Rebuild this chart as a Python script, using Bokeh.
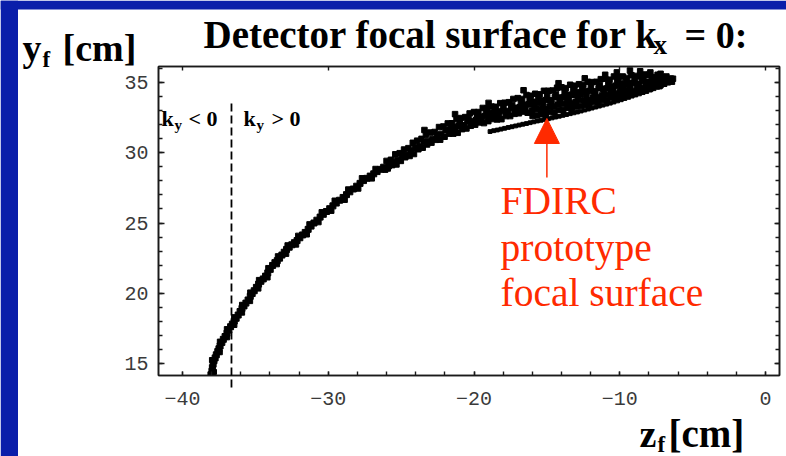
from bokeh.plotting import figure
from bokeh.layouts import column
from bokeh.models import (Range1d, LinearAxis, SingleIntervalTicker, Label,
                          Arrow, NormalHead, BoxAnnotation)
from bokeh.embed import file_html
from bokeh.resources import INLINE

# ---- lower, steep part of the focal surface (dense chain of hits) ----
chain_z = [-38.05, -37.98, -37.95, -37.90, -37.84, -37.76, -37.68, -37.58, -37.50, -37.42,
           -37.30, -37.20, -37.08, -36.95, -36.82, -36.70, -36.58, -36.45, -36.32, -36.18,
           -36.05, -35.92, -35.78, -35.65, -35.50, -35.35, -35.22, -35.08, -34.93, -34.78,
           -34.62, -34.46, -34.30, -34.15, -33.98, -33.82, -33.66, -33.50, -33.34, -33.18,
           -33.02, -32.86, -32.68, -32.50, -32.32, -32.14, -31.95, -31.76, -31.58, -31.38,
           -31.18, -30.98, -30.78, -30.56, -30.34, -30.12, -29.90, -29.68, -29.45, -29.22,
           -28.98, -28.75, -28.52, -28.28, -28.05, -27.82, -27.58, -27.35, -27.12, -26.88,
           -26.65, -26.42, -26.20]
chain_y = [14.20, 14.45, 14.70, 14.95, 15.20, 15.40, 15.62, 15.85, 16.05, 16.25,
           16.50, 16.72, 16.92, 17.15, 17.38, 17.62, 17.80, 18.02, 18.22, 18.45,
           18.70, 18.92, 19.10, 19.30, 19.52, 19.78, 19.98, 20.18, 20.42, 20.65,
           20.85, 21.02, 21.22, 21.45, 21.70, 21.98, 22.18, 22.32, 22.50, 22.72,
           22.92, 23.12, 23.28, 23.45, 23.60, 23.75, 23.95, 24.15, 24.33, 24.55,
           24.78, 25.00, 25.20, 25.42, 25.62, 25.82, 26.02, 26.22, 26.42, 26.62,
           26.82, 27.02, 27.22, 27.42, 27.62, 27.82, 28.02, 28.18, 28.34, 28.50,
           28.66, 28.82, 28.97]

side_z = [-37.84, -37.98, -37.44, -37.44, -36.94, -36.96, -36.44, -36.46, -35.91, -35.92,
          -35.36, -35.36, -34.79, -34.76, -34.16, -34.12, -33.52, -33.46, -32.88, -32.80,
          -32.20, -32.07, -31.46, -31.30, -30.66, -30.46, -29.78, -29.57, -28.86, -28.64,
          -27.93, -27.70, -27.00, -26.77, -26.08]
side_y = [14.40, 15.25, 15.80, 16.56, 16.86, 17.45, 17.74, 18.30, 18.62, 19.18,
          19.44, 20.06, 20.33, 20.95, 21.12, 21.80, 22.06, 22.64, 22.80, 23.42,
          23.46, 24.10, 24.18, 24.92, 25.05, 25.78, 25.86, 26.60, 26.64, 27.40,
          27.44, 28.20, 28.16, 28.86, 28.78]

# ---- upper, wide part of the focal surface (scattered cloud) ----
upper_z = [-26.0, -25.7, -25.4, -25.1, -24.8, -24.5, -24.2, -23.9, -23.6, -23.3,
           -23.0, -22.7, -22.4, -22.1, -21.8, -21.5, -21.2, -20.9, -20.6, -20.3,
           -20.0, -19.7, -19.4, -19.1, -18.8, -18.5, -18.2, -17.9, -17.6, -17.3,
           -17.0, -16.7, -16.4, -16.1, -15.8, -15.5, -15.2, -14.9, -14.6, -14.3,
           -14.0, -13.7, -13.4, -13.1, -12.8, -12.5, -12.2, -11.9, -11.6, -11.3,
           -11.0, -10.7, -10.4, -10.1, -9.8, -9.5, -9.2, -8.9, -8.6, -8.3,
           -8.0, -7.7, -7.4, -7.1, -6.8, -6.5]
upper_y = [29.42, 29.50, 29.89, 29.97, 30.23, 30.33, 30.71, 30.86, 30.99, 31.29,
           31.44, 31.48, 31.83, 31.87, 32.09, 32.10, 32.40, 32.47, 32.54, 32.80,
           32.90, 32.90, 33.19, 33.16, 33.29, 33.27, 33.53, 33.56, 33.60, 33.83,
           33.89, 33.83, 34.11, 34.06, 34.20, 34.16, 34.41, 34.41, 34.43, 34.63,
           34.66, 34.60, 34.84, 34.77, 34.88, 34.82, 35.05, 35.03, 35.05, 35.24,
           35.27, 35.20, 35.43, 35.35, 35.43, 35.33, 35.52, 35.47, 35.43, 35.57,
           35.55, 35.39, 35.55, 35.39, 35.43, 35.28]

middle_z = [-25.85, -25.55, -25.25, -24.95, -24.65, -24.35, -24.05, -23.75, -23.45, -23.15,
            -22.85, -22.55, -22.25, -21.95, -21.65, -21.35, -21.05, -20.75, -20.45, -20.15,
            -19.85, -19.55, -19.25, -18.95, -18.65, -18.35, -18.05, -17.75, -17.45, -17.15,
            -16.85, -16.55, -16.25, -15.95, -15.65, -15.35, -15.05, -14.75, -14.45, -14.15,
            -13.85, -13.55, -13.25, -12.95, -12.65, -12.35, -12.05, -11.75, -11.45, -11.15,
            -10.85, -10.55, -10.25, -9.95, -9.65, -9.35, -9.05, -8.75, -8.45, -8.15,
            -7.85, -7.55, -7.25, -6.95, -6.65, -6.35]
middle_y = [29.05, 29.35, 29.49, 29.80, 29.84, 30.15, 30.32, 30.44, 30.77, 30.84,
            30.98, 31.24, 31.34, 31.61, 31.61, 31.83, 31.92, 31.96, 32.23, 32.26,
            32.35, 32.57, 32.61, 32.81, 32.73, 32.92, 32.97, 32.97, 33.20, 33.20,
            33.25, 33.42, 33.44, 33.63, 33.55, 33.72, 33.76, 33.73, 33.95, 33.93,
            33.96, 34.13, 34.13, 34.30, 34.20, 34.37, 34.40, 34.37, 34.59, 34.56,
            34.59, 34.76, 34.76, 34.93, 34.82, 34.96, 34.97, 34.92, 35.11, 35.06,
            35.06, 35.18, 35.15, 35.28, 35.14, 35.27]

lower_z = [-25.92, -25.62, -25.32, -25.02, -24.72, -24.42, -24.12, -23.82, -23.52, -23.22,
           -22.92, -22.62, -22.32, -22.02, -21.72, -21.42, -21.12, -20.82, -20.52, -20.22,
           -19.92, -19.62, -19.32, -19.02, -18.72, -18.42, -18.12, -17.82, -17.52, -17.22,
           -16.92, -16.62, -16.32, -16.02, -15.72, -15.42, -15.12, -14.82, -14.52, -14.22,
           -13.92, -13.62, -13.32, -13.02, -12.72, -12.42, -12.12, -11.82, -11.52, -11.22,
           -10.92, -10.62, -10.32, -10.02, -9.72, -9.42, -9.12, -8.82, -8.52, -8.22,
           -7.92, -7.62, -7.32, -7.02, -6.72, -6.42]
lower_y = [28.88, 29.12, 29.17, 29.42, 29.68, 29.77, 29.91, 30.25, 30.36, 30.59,
           30.72, 30.92, 30.93, 31.14, 31.36, 31.36, 31.42, 31.68, 31.73, 31.92,
           32.00, 32.16, 32.11, 32.25, 32.40, 32.37, 32.39, 32.61, 32.61, 32.77,
           32.81, 32.93, 32.85, 32.99, 33.13, 33.08, 33.09, 33.29, 33.29, 33.44,
           33.47, 33.59, 33.51, 33.63, 33.76, 33.72, 33.73, 33.94, 33.94, 34.08,
           34.11, 34.24, 34.17, 34.30, 34.44, 34.39, 34.40, 34.60, 34.60, 34.75,
           34.77, 34.89, 34.83, 34.96, 35.08, 35.06]

fill_z = [-21.58, -21.28, -20.98, -20.68, -20.38, -20.08, -19.78, -19.48, -19.18, -18.88,
          -18.58, -18.28, -17.98, -17.68, -17.38, -17.08, -16.78, -16.48, -16.18, -15.88,
          -15.58, -15.28, -14.98, -14.68, -14.38, -14.08, -13.78, -13.48, -13.18, -12.88,
          -12.58, -12.28, -11.98, -11.68, -11.38, -11.08, -10.78, -10.48, -10.18, -9.88,
          -9.58, -9.28, -8.98, -8.68, -8.38, -8.08, -7.78]
fill_y = [31.88, 31.60, 32.13, 31.84, 32.38, 32.07, 32.63, 32.30, 32.86, 32.48,
          33.04, 32.65, 33.22, 32.81, 33.40, 32.97, 33.58, 33.11, 33.74, 33.26,
          33.90, 33.40, 34.05, 33.52, 34.19, 33.66, 34.32, 33.79, 34.45, 33.91,
          34.57, 34.05, 34.69, 34.17, 34.82, 34.30, 34.94, 34.44, 35.06, 34.57,
          35.15, 34.68, 35.21, 34.78, 35.27, 34.89, 35.31]

# hits filling the gap between the cloud and the prototype strip (z > -16)
merge_z = [-15.98, -15.68, -15.38, -15.08, -14.78, -14.48, -14.18, -13.88, -13.58, -13.28,
           -12.98, -12.68, -12.38, -12.08, -11.78, -11.48, -11.18, -10.88, -10.58, -10.28,
           -9.98, -9.68, -9.38, -9.08, -8.78, -8.48, -8.18, -7.88, -7.58, -7.28, -6.98]
merge_y = [32.62, 32.66, 32.74, 32.70, 32.90, 32.86, 33.05, 33.03, 33.20, 33.13,
           33.29, 33.33, 33.42, 33.40, 33.61, 33.58, 33.76, 33.76, 33.93, 33.88,
           34.06, 34.12, 34.20, 34.20, 34.41, 34.41, 34.58, 34.59, 34.77, 34.74, 34.92]

stray_z = [-9.3, -8.6, -7.9, -12.4, -11.0, -14.2, -16.6, -19.0, -21.3, -23.4, -7.2, -10.2]
stray_y = [35.85, 35.80, 35.72, 35.30, 35.55, 34.95, 34.45, 33.55, 32.75, 31.62, 35.62, 35.72]

# ---- FDIRC prototype focal surface (thin strip under the cloud) ----
proto_z = [-18.90, -18.65, -18.40, -18.15, -17.90, -17.65, -17.40, -17.15, -16.90, -16.65,
           -16.40, -16.15, -15.90, -15.65, -15.40, -15.15, -14.90, -14.65, -14.40, -14.15,
           -13.90, -13.65, -13.40, -13.15, -12.90, -12.65, -12.40, -12.15, -11.90, -11.65,
           -11.40, -11.15, -10.90, -10.65, -10.40, -10.15, -9.90, -9.65, -9.40, -9.15,
           -8.90, -8.65, -8.40, -8.15, -7.90, -7.65, -7.40, -7.15, -6.90, -6.65, -6.40]
proto_y = [31.51, 31.57, 31.62, 31.68, 31.74, 31.80, 31.85, 31.91, 31.97, 32.03,
           32.08, 32.14, 32.20, 32.26, 32.31, 32.37, 32.42, 32.48, 32.54, 32.60,
           32.66, 32.72, 32.78, 32.84, 32.90, 32.97, 33.04, 33.11, 33.18, 33.25,
           33.32, 33.39, 33.46, 33.53, 33.61, 33.69, 33.77, 33.86, 33.94, 34.03,
           34.11, 34.19, 34.28, 34.36, 34.46, 34.56, 34.66, 34.75, 34.85, 34.95, 35.05]

# ky = 0 boundary and the arrow pointing at the prototype surface
ky_zero_z = -36.64
arrow_z = -15.0
arrow_tip_y = 32.44

# ---- page geometry ----
W, H = 786, 456
FL, FR, FT, FB = 158, 779, 66, 375          # plot frame edges in pixels
X0, X1 = -41.647, 0.96
Y0, Y1 = 14.146, 36.14
RAISE = 0.31                                 # baseline correction, fraction of font size

def at(px, py):
    """Pixel position on the page -> data coordinates."""
    x = X0 + (px - FL) * (X1 - X0) / (FR - FL)
    y = Y1 - (py - FT) * (Y1 - Y0) / (FB - FT)
    return x, y

def z_to_px(z):
    return FL + (z - X0) * (FR - FL) / (X1 - X0)

p = figure(width=W, height=H, x_range=Range1d(X0, X1), y_range=Range1d(Y0, Y1),
           output_backend="svg", toolbar_location=None,
           x_axis_location=None, y_axis_location=None,
           min_border_left=FL, min_border_right=W - FR,
           min_border_top=FT, min_border_bottom=H - FB)
p.frame_align = False
p.xgrid.visible = False
p.ygrid.visible = False
p.background_fill_color = "white"
p.border_fill_color = "white"
p.outline_line_color = "#1a1a1a"
p.outline_line_width = 1.5

def frame_axis(ticker, labels, major_in, minor_in):
    ax = LinearAxis(ticker=ticker)
    ax.axis_line_color = "#1a1a1a"
    ax.axis_line_width = 1.6
    ax.major_tick_in = major_in
    ax.major_tick_out = 0
    ax.minor_tick_in = minor_in
    ax.minor_tick_out = 0
    ax.major_tick_line_color = "#1a1a1a"
    ax.major_tick_line_width = 1.4
    ax.minor_tick_line_color = "#1a1a1a" if minor_in else None
    ax.minor_tick_line_width = 1.4
    if labels:
        ax.major_label_text_font = "Liberation Mono"
        ax.major_label_text_font_size = "20px"
        ax.major_label_text_color = "#3a3a3a"
    else:
        ax.major_label_text_color = None
        ax.major_label_text_font_size = "1px"
        ax.major_label_standoff = 0
    return ax

xb = frame_axis(SingleIntervalTicker(interval=10, num_minor_ticks=5), True, 4, 4)
xb.major_label_standoff = 16
yl = frame_axis(SingleIntervalTicker(interval=5, num_minor_ticks=5), True, 6, 4)
yl.major_label_standoff = 10
xt = frame_axis(SingleIntervalTicker(interval=10, num_minor_ticks=0), False, 4, 0)
yr = frame_axis(SingleIntervalTicker(interval=5, num_minor_ticks=5), False, 5, 4)
p.add_layout(xb, "below")
p.add_layout(yl, "left")
p.add_layout(xt, "above")
p.add_layout(yr, "right")

# focal-surface hits
p.scatter(chain_z, chain_y, marker="square", size=6, color="black")
p.scatter(side_z, side_y, marker="square", size=5, color="black")
for zs, ys in ((upper_z, upper_y), (middle_z, middle_y), (lower_z, lower_y),
               (fill_z, fill_y), (merge_z, merge_y), (stray_z, stray_y)):
    p.scatter(zs, ys, marker="square", size=5.5, color="black")
p.scatter(proto_z, proto_y, marker="square", size=3.8, color="black")

RED = "#ff2a00"
_, arrow_tail = at(0, 177)
p.add_layout(Arrow(end=NormalHead(size=25, fill_color=RED, line_color=RED, line_width=1),
                   x_start=arrow_z, y_start=arrow_tail, x_end=arrow_z, y_end=arrow_tip_y,
                   line_color=RED, line_width=1.5))

def in_frame_text(px, py, s, size, bold=True, color="black"):
    x, y = at(px, py - RAISE * size)
    p.add_layout(Label(x=x, y=y, text=s, text_font="Liberation Serif",
                       text_font_size=f"{size}px",
                       text_font_style="bold" if bold else "normal",
                       text_color=color, text_align="left",
                       text_baseline="alphabetic"))

# ky regions
in_frame_text(161, 125, "k", 22)
in_frame_text(174, 129, "y", 15)
in_frame_text(188, 125, "< 0", 22)
in_frame_text(243, 125, "k", 22)
in_frame_text(256, 129, "y", 15)
in_frame_text(271, 125, "> 0", 22)

# annotation of the prototype surface
in_frame_text(500, 213, "FDIRC", 39.5, bold=False, color=RED)
in_frame_text(500, 260, "prototype", 39.5, bold=False, color=RED)
in_frame_text(500, 305, "focal surface", 39.5, bold=False, color=RED)

# ---- transparent page layer on top: slide border, titles, dashed ky = 0 line ----
ov = figure(width=W, height=H, x_range=Range1d(0, W), y_range=Range1d(H, 0),
            output_backend="svg", toolbar_location=None,
            x_axis_location=None, y_axis_location=None, min_border=0)
ov.frame_align = False
ov.xgrid.visible = False
ov.ygrid.visible = False
ov.background_fill_color = None
ov.border_fill_color = None
ov.outline_line_color = None
ov.margin = (-H, 0, 0, 0)

BLUE = "#0a1eaa"
ov.add_layout(BoxAnnotation(left=0, right=17.5, top=0, bottom=H,
                            fill_color=BLUE, fill_alpha=1, line_alpha=0))
ov.add_layout(BoxAnnotation(left=0, right=W, top=0, bottom=9,
                            fill_color=BLUE, fill_alpha=1, line_alpha=0))

dash_x = z_to_px(ky_zero_z)
ov.add_layout(Arrow(end=None, x_start=dash_x, y_start=103, x_end=dash_x, y_end=390,
                    line_color="black", line_width=1.8, line_dash="8 4"))

def page_text(px, py, s, size):
    ov.add_layout(Label(x=px, y=py - RAISE * size, text=s, text_font="Liberation Serif",
                        text_font_size=f"{size}px", text_font_style="bold",
                        text_color="black", text_align="left",
                        text_baseline="alphabetic"))

# title
page_text(203, 46, "Detector focal surface for k", 39)
page_text(653, 53, "x", 27)
page_text(684, 46, "= 0:", 38)

# axis titles
page_text(22, 59, "y", 38)
page_text(42, 66, "f", 23)
page_text(62, 59, "[cm]", 38)
page_text(639, 445, "z", 38)
page_text(657, 451, "f", 23)
page_text(668, 445, "[cm]", 39)

open("out.html", "w").write(file_html(column(p, ov), INLINE))
